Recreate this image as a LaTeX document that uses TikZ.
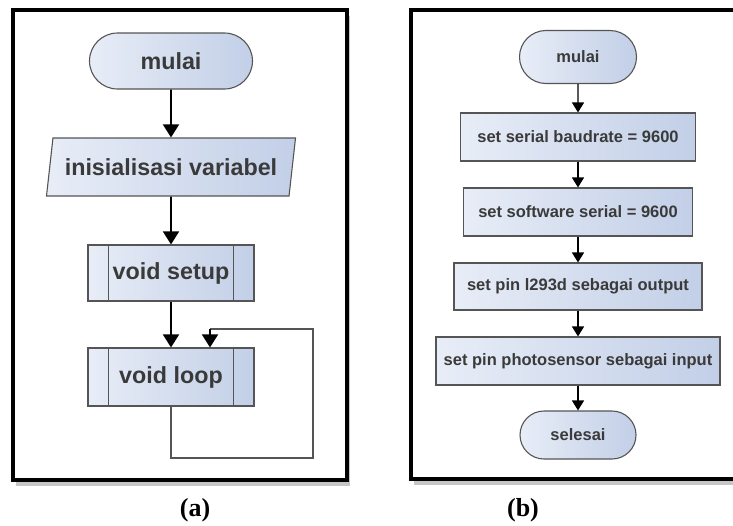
\documentclass[tikz,border=0pt]{standalone}
\usepackage{fontspec}
\setmainfont{Liberation Serif}
\setsansfont{Liberation Sans}
\usetikzlibrary{arrows.meta,shapes.geometric,shapes.misc,shadows}

\definecolor{boxlight}{HTML}{E8EDF7}
\definecolor{boxdark}{HTML}{C2CFE7}
\definecolor{boxline}{HTML}{555555}
\definecolor{textgray}{HTML}{3A3A3A}

\begin{document}
\begin{tikzpicture}[
        %We work in pixels of the reference, y pointing down
        x=1pt, y=-1pt,
        frame/.style={line width=4pt, fill=white,
            drop shadow={shadow xshift=3pt, shadow yshift=-6pt, opacity=0.45}},
        base/.style={draw=boxline, line width=1.1pt, left color=boxlight,
            right color=boxdark, text=textgray, inner sep=2pt},
        big text/.style={font=\sffamily\bfseries\fontsize{23.3}{26}\selectfont},
        small text/.style={font=\sffamily\bfseries\fontsize{16.5}{20}\selectfont},
        terminal/.style={base, rounded rectangle},
        io/.style={base, trapezium, trapezium left angle=73,
            trapezium right angle=107, trapezium stretches body},
        process/.style={base, rectangle},
        arr/.style={line width=1.6pt, -{Triangle[width=16pt,length=13pt]}},
        small arr/.style={line width=1.3pt, -{Triangle[width=12pt,length=10pt]}},
        loop line/.style={draw=boxline, line width=1.1pt},
        caption/.style={font=\bfseries\fontsize{26}{30}\selectfont}
     ]
\useasboundingbox (0,0) rectangle (733,525);
\clip (0,0) rectangle (733,525);
\begin{scope}
    % frames
    \draw[frame] (13,10) rectangle (347,480);
    \draw[frame] (411,10) rectangle (745,479);

    % (a) flowchart
    \node[terminal, big text, minimum width=167pt, minimum height=56pt] (amulai) at (171,61) {mulai};
    \node[io, big text, minimum width=249pt, minimum height=58pt] (ainit) at (171,167) {inisialisasi variabel};
    \node[process, big text, minimum width=166pt, minimum height=56pt] (asetup) at (171,273) {void setup};
    \node[process, big text, minimum width=166pt, minimum height=58pt] (aloop) at (171,377) {void loop};
    % side bars of the predefined processes
    \foreach \n in {asetup,aloop} {
        \draw[loop line] ([xshift=21pt]\n.north west) -- ([xshift=21pt]\n.south west);
        \draw[loop line] ([xshift=-21pt]\n.north east) -- ([xshift=-21pt]\n.south east);
    }
    \draw[arr] (amulai) -- (ainit);
    \draw[arr] (ainit) -- (asetup);
    \draw[arr] (asetup) -- (aloop);
    % loop back
    \coordinate (lbot) at (313,458);
    \coordinate (ltop) at (313,329);
    \coordinate (lin) at (210,329);
    \draw[loop line] (aloop.south) |- (lbot) -- (ltop) -- (lin);
    \draw[arr] (lin) -- (lin |- aloop.north);

    % (b) flowchart
    \node[terminal, small text, minimum width=121pt, minimum height=53pt] (bmulai) at (578,57) {mulai};
    \node[process, small text, minimum width=235pt, minimum height=48pt] (bbaud) at (578,137) {set serial baudrate = 9600};
    \node[process, small text, minimum width=229pt, minimum height=48pt] (bsoft) at (578,212) {set software serial = 9600};
    \node[process, small text, minimum width=248pt, minimum height=47pt] (bpin) at (578,286.5) {set pin l293d sebagai output};
    \node[process, small text, minimum width=284pt, minimum height=48pt] (bphoto) at (578,361) {set pin photosensor sebagai input};
    \node[terminal, small text, minimum width=120pt, minimum height=48pt] (bend) at (578,435) {selesai};
    \draw[small arr] (bmulai) -- (bbaud);
    \draw[small arr] (bbaud) -- (bsoft);
    \draw[small arr] (bsoft) -- (bpin);
    \draw[small arr] (bpin) -- (bphoto);
    \draw[small arr] (bphoto) -- (bend);

    % captions
    \node[caption] (capa) at (195,510) {(a)};
    \node[caption] (capb) at (523,510) {(b)};
\end{scope}
\end{tikzpicture}
\end{document}
